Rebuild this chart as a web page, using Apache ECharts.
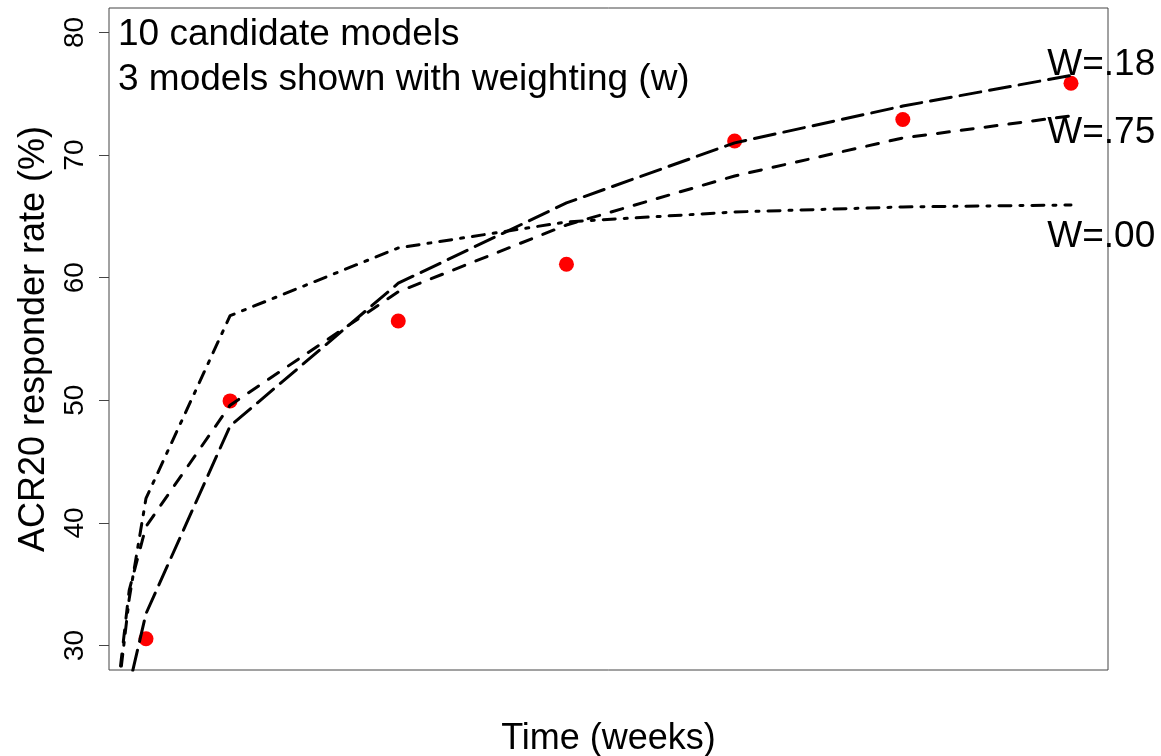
<!DOCTYPE html>
<html>
<head>
<meta charset="utf-8">
<script src="https://cdn.jsdelivr.net/npm/echarts@6/dist/echarts.min.js"></script>
<style>
  html, body { margin: 0; padding: 0; background: #fff; }
  #chart { width: 1161px; height: 756px; }
</style>
</head>
<body>
<div id="chart"></div>
<script>
// observed responder rates
const weeks = [1, 2, 4, 6, 8, 10, 12]
const observed = [30.55, 49.95, 56.47, 61.1, 71.15, 72.9, 75.86]

// fitted model curves
const modelTimes = [0.6, 0.8, 1, 2, 4, 6, 8, 10, 12]
const modelW18 = [20.8, 26.7, 32.6, 47.9, 59.55, 66.1, 71.0, 74.0, 76.5]
const modelW75 = [22.5, 34.5, 39.7, 49.6, 58.85, 64.3, 68.3, 71.4, 73.2]
const modelW00 = [22.0, 33.8, 42.0, 56.9, 62.43, 64.55, 65.36, 65.77, 65.93]

// weight labels at right side
const weightLabels = ['W=.18', 'W=.75', 'W=.00']
const weightLabelY = [77.4, 71.8, 63.3]
const weightLabelX = 12.36

const yTicks = [30, 40, 50, 60, 70, 80]

const font = '"Liberation Sans", Arial, sans-serif'
const lwd = 3

function pairs(xs, ys) {
  return xs.map((x, i) => [x, ys[i]])
}

function modelLine(name, values, dash) {
  return {
    name: name,
    type: 'line',
    data: pairs(modelTimes, values),
    symbol: 'none',
    clip: true,
    z: 3,
    lineStyle: {
      color: '#000',
      width: lwd,
      // R style dash units scale with line width
      type: dash.map(d => d * lwd),
      cap: 'round'
    }
  }
}

const chart = echarts.init(document.getElementById('chart'))
chart.setOption({
  animation: false,
  grid: {
    left: 109,
    right: 53,
    top: 8,
    bottom: 86,
    outerBoundsMode: 'none',
    containLabel: false,
    show: true,
    borderColor: '#444',
    borderWidth: 1
  },
  xAxis: {
    type: 'value',
    min: 0.56,
    max: 12.44,
    name: 'Time (weeks)',
    nameLocation: 'middle',
    nameGap: 51,
    nameTextStyle: { fontFamily: font, fontSize: 36, color: '#000' },
    axisLine: { show: false },
    axisTick: { show: false },
    axisLabel: { show: false },
    splitLine: { show: false }
  },
  yAxis: {
    type: 'value',
    min: 28,
    max: 82,
    name: 'ACR20 responder rate (%)',
    nameLocation: 'middle',
    nameGap: 57,
    nameTextStyle: { fontFamily: font, fontSize: 36, color: '#000' },
    axisLine: { show: false },
    axisTick: {
      show: true,
      length: 10,
      customValues: yTicks,
      lineStyle: { color: '#444', width: 1 }
    },
    axisLabel: {
      show: true,
      customValues: yTicks,
      rotate: 90,
      margin: 20,
      fontFamily: font,
      fontSize: 28,
      color: '#000'
    },
    splitLine: { show: false }
  },
  graphic: [
    {
      type: 'text',
      left: 118,
      top: 16,
      style: { text: '10 candidate models', font: '37px ' + font, fill: '#000' }
    },
    {
      type: 'text',
      left: 118,
      top: 61,
      style: { text: '3 models shown with weighting (w)', font: '37px ' + font, fill: '#000' }
    }
  ],
  series: [
    {
      name: 'observed',
      type: 'scatter',
      data: pairs(weeks, observed),
      symbol: 'circle',
      symbolSize: 15,
      z: 2,
      itemStyle: { color: '#ff0000', opacity: 1 }
    },
    modelLine('W=.18', modelW18, [7, 3]),
    modelLine('W=.75', modelW75, [4, 4]),
    modelLine('W=.00', modelW00, [1, 3, 4, 3]),
    {
      name: 'weights',
      type: 'scatter',
      data: weightLabelY.map((y, i) => ({ value: [weightLabelX, y], name: weightLabels[i] })),
      symbolSize: 0,
      z: 5,
      silent: true,
      itemStyle: { opacity: 1 },
      label: {
        show: true,
        position: 'inside',
        formatter: p => p.name,
        fontFamily: font,
        fontSize: 37,
        color: '#000'
      }
    }
  ]
})
</script>
</body>
</html>
